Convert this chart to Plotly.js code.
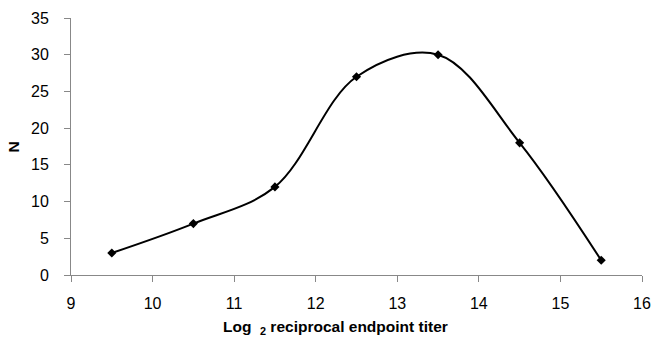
<!DOCTYPE html>
<html><head><meta charset="utf-8">
<script src="https://cdn.plot.ly/plotly-3.0.1.min.js"></script>
<style>html,body{margin:0;padding:0;background:#fff}#chart{width:652px;height:338px}</style>
</head><body><div id="chart"></div>
<script>
const titers = [9.5, 10.5, 11.5, 12.5, 13.5, 14.5, 15.5];
const counts = [3, 7, 12, 27, 30, 18, 2];
const xTicks = [9, 10, 11, 12, 13, 14, 15, 16];
const yTicks = [0, 5, 10, 15, 20, 25, 30, 35];

const trace = {
  x: titers, y: counts, type: 'scatter', mode: 'lines+markers',
  line: {shape: 'spline', smoothing: 1, color: '#000', width: 2},
  marker: {symbol: 'diamond', size: 7, color: '#000'},
  cliponaxis: false
};
const fam = 'Liberation Sans, Arial, sans-serif';
const font = {family: fam, size: 16, color: '#000'};
const bold = {family: fam, size: 15.5, weight: 'bold', color: '#000'};
const layout = {
  width: 652, height: 338,
  margin: {l: 71, r: 10, t: 18, b: 63},
  paper_bgcolor: '#fff', plot_bgcolor: '#fff',
  showlegend: false, font: font,
  xaxis: {range: [9, 16], tickvals: xTicks, ticktext: xTicks.map(String), tickfont: font,
    showgrid: false, zeroline: false, showline: true, linecolor: '#888', linewidth: 1,
    ticks: 'outside', ticklen: 6, tickcolor: '#888', ticklabelstandoff: 8},
  yaxis: {range: [0, 35], tickvals: yTicks, ticktext: yTicks.map(String), tickfont: font,
    showgrid: false, zeroline: false, showline: true, linecolor: '#888', linewidth: 1,
    ticks: 'outside', ticklen: 6, tickcolor: '#888', ticklabelstandoff: 12},
  annotations: [
    {text: 'Log&nbsp; <sub>2</sub> reciprocal endpoint titer', font: bold, showarrow: false,
     xref: 'paper', yref: 'paper', x: 0.464, y: -0.205, xanchor: 'center', yanchor: 'middle'},
    {text: 'N', font: bold, showarrow: false, textangle: -90,
     xref: 'paper', yref: 'paper', x: -0.10, y: 0.5, xanchor: 'center', yanchor: 'middle'}
  ]
};
Plotly.newPlot('chart', [trace], layout, {displayModeBar: false, staticPlot: true});
</script></body></html>
